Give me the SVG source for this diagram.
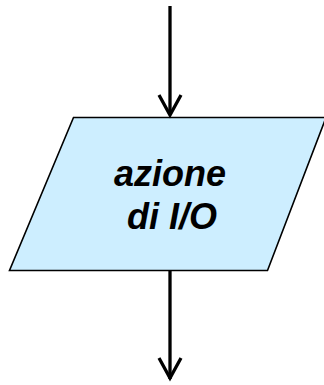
<svg xmlns="http://www.w3.org/2000/svg" width="324" height="385" viewBox="0 0 324 385">
  <defs>
    <style>
      .io { fill: #cdeeff; stroke: #000; stroke-width: 1.6; stroke-linejoin: miter; }
      .label { font-family: "Liberation Sans", Arial, sans-serif; font-size: 36px; font-weight: bold; font-style: italic; fill: #000; text-anchor: middle; }
      .flow { fill: none; stroke: #000; stroke-width: 3.3; stroke-linecap: butt; stroke-linejoin: miter; }
    </style>
  </defs>
  <rect width="324" height="385" fill="#fff"/>
  <g id="io-node">
    <polygon class="io" points="73.5,117.5 326,117.5 267.5,270.5 9.5,270.5"/>
    <text class="label" x="170" y="186">azione</text>
    <text class="label" x="172" y="229">di I/O</text>
  </g>
  <g id="connectors">
    <line class="flow" x1="170" y1="6" x2="170" y2="115"/>
    <polyline class="flow" points="159,95 170,115 181,95"/>
    <line class="flow" x1="170" y1="271" x2="170" y2="379"/>
    <polyline class="flow" points="159,358 170,378 181,358"/>
  </g>
</svg>
